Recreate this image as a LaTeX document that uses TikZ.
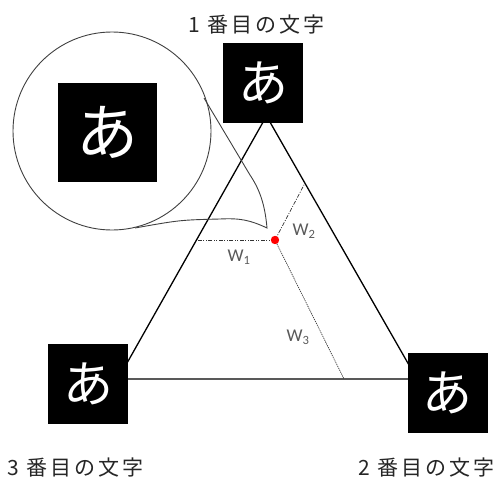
\documentclass[tikz,border=0pt]{standalone}
\usepackage{fontspec}
\newfontfamily\cjk{Noto Sans CJK JP}
\newfontfamily\cjkcap[LetterSpace=14]{Noto Sans CJK JP}
\newfontfamily\wfont{Carlito}
\begin{document}
\begin{tikzpicture}[x=1pt,y=-1pt,
  charbox/.style={fill=black,text=white,inner sep=0pt,minimum size=80pt,font=\cjk\fontsize{50}{50}\selectfont},
  bigbox/.style={charbox,minimum size=99pt,font=\cjk\fontsize{62}{62}\selectfont},
  side/.style={line width=1.3pt,black},
  lens/.style={line width=0.9pt,black!75},
  wline/.style={line width=0.7pt,black!80},
  wlabel/.style={text=black!65,font=\wfont\fontsize{18}{18}\selectfont,inner sep=0pt},
  caption/.style={font=\cjkcap\fontsize{21}{21}\selectfont,text=black!85,inner sep=0pt}]
\useasboundingbox (0,0) rectangle (501,479);
\clip (0,0) rectangle (501,479);
% triangle
\coordinate (A) at (266.5,116);
\coordinate (B) at (118,379);
\coordinate (C) at (417,379);
\draw[side] (A) -- (B) -- (C) -- cycle;
% boxes
\node[charbox] (t1) at (263,82.5) {あ};
\node[charbox] (t3) at (88,383.5) {あ};
\node[charbox] (t2) at (447.5,392.5) {あ};
% captions
\node[caption,anchor=west] (c1) at (188,25) {1 番目の文字};
\node[caption,anchor=west] (c3) at (7,468) {3 番目の文字};
\node[caption,anchor=west] (c2) at (358,468) {2 番目の文字};
% magnifier
\node[lens,draw,circle,minimum size=198pt,inner sep=0pt] (lensc) at (112,131) {};
\node[bigbox] (big) at (107.5,132) {あ};
\coordinate (tip) at (267,228);
\coordinate (u0) at (204,98);
\coordinate (u1) at (250,175);
\coordinate (b0) at (135,228);
\draw[lens] (u0) -- (u1) .. controls (260,190) and (265,205) .. (tip)
  .. controls (250,220) and (240,218) .. (220,219)
  .. controls (180,220) .. (b0);
% point and distances
\coordinate (p) at (275,240);
\coordinate (f1) at (196.3,240);
\coordinate (f2) at (305,183);
\coordinate (f3) at (344,379);
\draw[wline,dash pattern=on 4pt off 1.5pt on 1pt off 1.5pt on 1pt off 1.5pt] (p) -- (f1);
\draw[wline,dash pattern=on 4pt off 1.5pt on 1pt off 1.5pt] (p) -- (f2);
\draw[wline,line width=0.7pt,dash pattern=on 1.2pt off 0.9pt] (p) -- (f3);
\fill[red] (p) circle (4.2);
\node[wlabel] (w1) at (239,257) {W\textsubscript{1}};
\node[wlabel] (w2) at (304,231) {W\textsubscript{2}};
\node[wlabel] (w3) at (298,337) {W\textsubscript{3}};
\end{tikzpicture}
\end{document}
